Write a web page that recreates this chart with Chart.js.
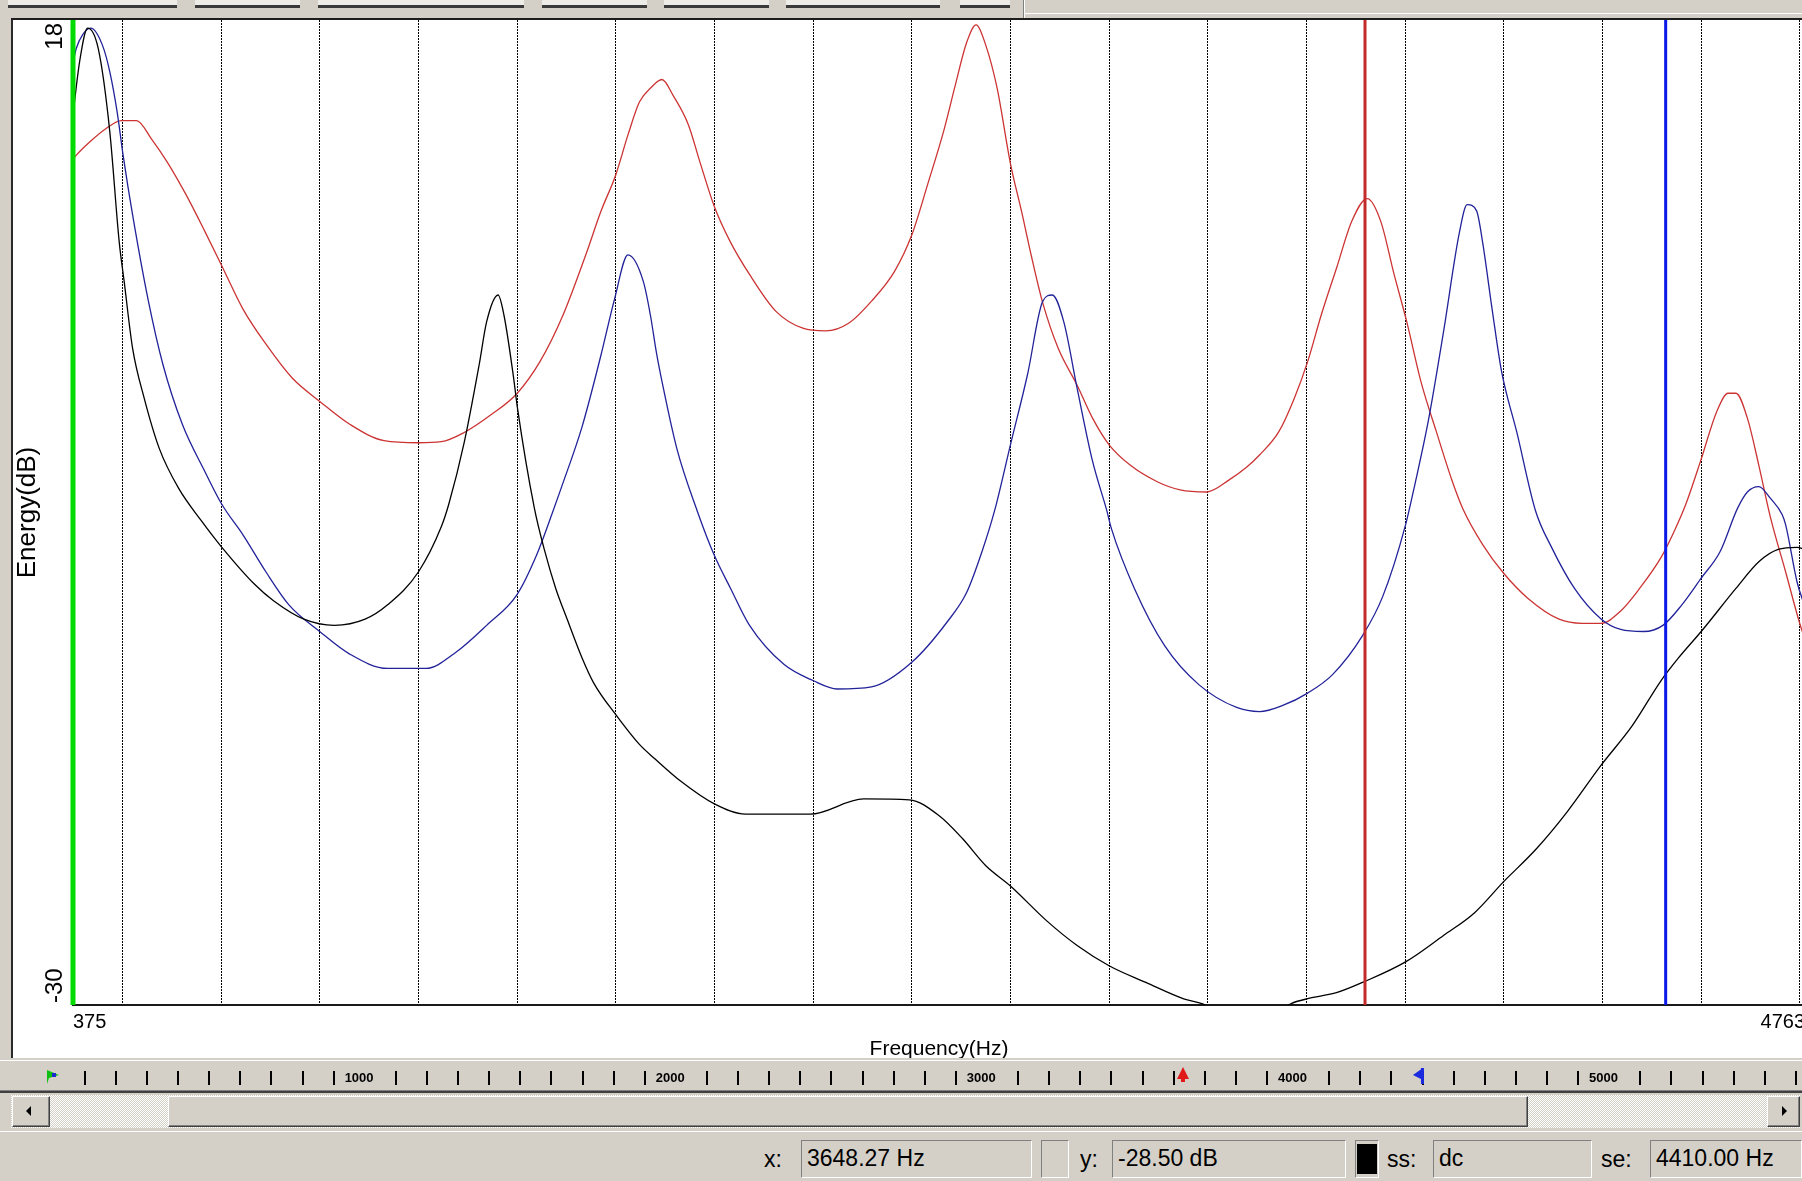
<!DOCTYPE html>
<html>
<head>
<meta charset="utf-8">
<title>Spectrum</title>
<script src="https://cdn.jsdelivr.net/npm/chart.js@4.4.1/dist/chart.umd.min.js"></script>
<style>
  html, body { margin: 0; padding: 0; width: 1802px; height: 1181px; overflow: hidden; background: #d4d0c8; }
  body { position: relative; font-family: "Liberation Sans", Arial, sans-serif; color: #000; }
  .abs { position: absolute; box-sizing: border-box; }
  .raised { background: #d4d0c8; border-top: 1px solid #fff; border-left: 1px solid #fff; border-right: 1px solid #404040; border-bottom: 1px solid #404040; box-shadow: inset -1px -1px 0 #808080; }
  .sunken { background: #d4d0c8; border-top: 1px solid #808080; border-left: 1px solid #808080; border-right: 1px solid #fff; border-bottom: 1px solid #fff; font-size: 23px; line-height: 34px; padding-left: 5px; white-space: nowrap; }
  .lbl { font-size: 23px; line-height: 34px; }
  .track { background: repeating-conic-gradient(#d4d0c8 0 25%, #fff 0 50%) 0 0 / 2px 2px; }
</style>
</head>
<body>
<!-- toolbar remnants at the top -->
<div class="abs" style="left:0;top:0;width:1802px;height:19px;background:#d4d0c8"></div>
<div id="tabs"></div>
<div class="abs" style="left:1023px;top:0;width:1px;height:18px;background:#808080"></div>
<div class="abs" style="left:1024px;top:0;width:1px;height:18px;background:#fff"></div>
<div class="abs" style="left:1025px;top:13px;width:777px;height:1px;background:#fff"></div>

<!-- white plot panel -->
<div class="abs" style="left:11px;top:19px;width:1791px;height:1039px;background:#fff"></div>
<div class="abs" style="left:11px;top:19px;width:2px;height:1039px;background:#2a2a2a"></div>
<div class="abs" style="left:11px;top:18px;width:1791px;height:2px;background:#1e1e1e"></div>

<div class="abs" style="left:0;top:0;width:1810px;height:1062px">
  <canvas id="chart"></canvas>
</div>

<!-- frequency ruler -->
<canvas id="ruler" class="abs" width="1802" height="36" style="left:0;top:1058px"></canvas>

<!-- scrollbar -->
<div class="abs track" style="left:11px;top:1095px;width:1789px;height:33px"></div>
<div class="abs raised" style="left:12px;top:1096px;width:38px;height:31px"></div>
<div class="abs" style="left:26px;top:1106px;width:0;height:0;border-top:5px solid transparent;border-bottom:5px solid transparent;border-right:5px solid #000"></div>
<div class="abs raised" style="left:168px;top:1096px;width:1360px;height:31px"></div>
<div class="abs raised" style="left:1767px;top:1096px;width:33px;height:31px"></div>
<div class="abs" style="left:1782px;top:1106px;width:0;height:0;border-top:5px solid transparent;border-bottom:5px solid transparent;border-left:5px solid #000"></div>

<!-- status bar -->
<div class="abs" style="left:0;top:1131px;width:1802px;height:1px;background:#fff"></div>
<div class="abs lbl" style="left:764px;top:1142px">x:</div>
<div class="abs sunken" style="left:801px;top:1140px;width:231px;height:38px">3648.27 Hz</div>
<div class="abs sunken" style="left:1041px;top:1140px;width:28px;height:38px"></div>
<div class="abs lbl" style="left:1080px;top:1142px">y:</div>
<div class="abs sunken" style="left:1112px;top:1140px;width:234px;height:38px">-28.50 dB</div>
<div class="abs sunken" style="left:1355px;top:1140px;width:24px;height:38px;padding:0"><div style="margin:3px 1px;height:30px;background:#000"></div></div>
<div class="abs lbl" style="left:1387px;top:1142px">ss:</div>
<div class="abs sunken" style="left:1433px;top:1140px;width:159px;height:38px">dc</div>
<div class="abs lbl" style="left:1601px;top:1142px">se:</div>
<div class="abs sunken" style="left:1650px;top:1140px;width:152px;height:38px">4410.00 Hz</div>

<script>
// ---- values ----
const blackHz = [375, 392, 412, 439, 468, 492, 505, 526, 555, 594, 642, 700, 748, 835, 883, 960, 1037, 1115, 1172, 1250,
  1308, 1327, 1366, 1404, 1423, 1452, 1467, 1491, 1501, 1544, 1569, 1598, 1627, 1665, 1694, 1752, 1810, 1849, 1915, 2000,
  2079, 2243, 2378, 2494, 2571, 2629, 2687, 2750, 2842, 2919, 3001, 3093, 3189, 3237, 3300, 3350, 3400, 3459, 3508, 3576,
  3642, 3751, 3848, 3926, 3999, 4082, 4160, 4247, 4325, 4398, 4442, 4500, 4588, 4646, 4695, 4743, 4763];
const blackDb = [13.4, 16.0, 17.6, 16.6, 12.6, 7.2, 5.2, 2.0, -0.4, -2.9, -4.8, -6.4, -7.6, -9.5, -10.3, -11.2, -11.5, -11.2, -10.5, -8.9,
  -6.7, -5.6, -2.6, 1.2, 3.3, 4.6, 3.6, 0.6, -0.9, -5.8, -7.8, -9.7, -11.2, -13.1, -14.3, -15.9, -17.3, -18.0, -19.1, -20.2,
  -20.7, -20.7, -19.96, -20.0, -20.8, -21.9, -23.2, -24.2, -25.9, -27.1, -28.1, -28.9, -29.7, -29.95, -30.6, -31.0, -30.7, -29.95, -29.67, -29.4,
  -28.9, -27.9, -26.6, -25.5, -24.0, -22.4, -20.6, -18.3, -16.4, -14.2, -13.1, -11.8, -9.7, -8.4, -7.8, -7.7, -7.8];

const blueHz = [375, 383, 400, 420, 449, 468, 487, 502, 526, 565, 603, 652, 709, 752, 806, 864, 922, 1000, 1076, 1172,
  1269, 1346, 1423, 1500, 1549, 1588, 1612, 1665, 1713, 1747, 1781, 1820, 1838, 1853, 1867, 1905, 1956, 2000, 2041, 2089,
  2176, 2251, 2311, 2398, 2500, 2591, 2639, 2678, 2710, 2750, 2793, 2832, 2856, 2885, 2919, 2958, 2994, 3006, 3064, 3141,
  3228, 3323, 3381, 3440, 3503, 3566, 3642, 3693, 3751, 3775, 3809, 3848, 3887, 3907, 3931, 3946, 3970, 3994, 4033, 4080,
  4121, 4179, 4247, 4296, 4354, 4403, 4451, 4500, 4548, 4592, 4617, 4646, 4675, 4705, 4714, 4743, 4763];
const blueDb = [15.9, 16.6, 17.3, 17.6, 16.8, 15.5, 13.5, 11.4, 8.5, 4.4, 1.2, -1.7, -4.0, -5.6, -7.1, -8.9, -10.5, -11.8, -12.9, -13.6,
  -13.6, -12.8, -11.5, -10.0, -8.1, -6.1, -4.8, -1.8, 1.7, 4.4, 6.55, 5.25, 3.6, 1.8, 0.4, -2.9, -5.9, -8.1, -9.7, -11.5,
  -13.4, -14.2, -14.6, -14.5, -13.3, -11.3, -9.9, -7.9, -5.9, -2.7, 0.7, 4.3, 4.6, 3.3, 0.05, -3.5, -5.9, -6.8, -9.7, -12.5,
  -14.4, -15.5, -15.7, -15.4, -14.8, -13.9, -12.0, -10.1, -6.6, -4.6, -1.5, 2.9, 7.6, 9.0, 8.7, 7.2, 3.95, 0.9, -2.1, -5.9,
  -7.7, -9.7, -11.2, -11.7, -11.8, -11.5, -10.5, -9.2, -7.9, -5.8, -5.0, -4.74, -5.3, -6.1, -6.6, -9.4, -10.6];

const redHz = [375, 383, 420, 458, 497, 536, 574, 613, 661, 709, 750, 806, 864, 931, 1001, 1076, 1163, 1250, 1308, 1366,
  1433, 1500, 1558, 1616, 1674, 1713, 1750, 1781, 1810, 1839, 1867, 1896, 1934, 1963, 2000, 2040, 2089, 2156, 2224, 2282,
  2340, 2398, 2456, 2500, 2542, 2581, 2610, 2639, 2663, 2687, 2716, 2750, 2779, 2803, 2832, 2871, 2919, 2958, 3000, 3054,
  3122, 3180, 3247, 3305, 3348, 3381, 3430, 3469, 3503, 3537, 3576, 3615, 3654, 3688, 3722, 3754, 3790, 3829, 3868, 3897,
  3946, 3999, 4062, 4140, 4198, 4247, 4296, 4344, 4398, 4432, 4461, 4500, 4539, 4568, 4588, 4617, 4646, 4675, 4714, 4748, 4763];
const redDb = [11.2, 11.4, 12.1, 12.7, 13.1, 13.1, 12.2, 11.1, 9.5, 7.7, 6.1, 3.9, 2.2, 0.54, -0.6, -1.7, -2.5, -2.6, -2.55, -2.1,
  -1.25, -0.2, 1.35, 3.6, 6.55, 8.7, 10.45, 12.4, 14.0, 14.7, 15.1, 14.3, 12.9, 11.1, 8.9, 7.2, 5.6, 3.8, 2.98, 2.85,
  3.22, 4.3, 5.74, 7.52, 10.1, 12.6, 14.8, 16.9, 17.76, 16.8, 14.7, 11.0, 8.6, 6.5, 4.2, 2.0, 0.2, -1.4, -2.7, -3.7,
  -4.5, -4.9, -5.0, -4.4, -3.8, -3.2, -2.06, -0.44, 1.35, 3.6, 5.9, 8.2, 9.3, 8.2, 5.6, 3.3, 0.38, -2.06, -4.4, -5.85,
  -7.55, -8.95, -10.2, -11.2, -11.4, -11.4, -10.8, -9.7, -8.2, -6.9, -5.6, -3.4, -1.1, -0.19, -0.19, -1.4, -3.7, -6.2, -8.9, -11.3, -12.2];

// axis range, grid and cursors
const xTickValues = [375, 500, 750, 1000, 1250, 1500, 1750, 2000, 2250, 2500, 2750, 3000, 3250, 3500, 3750, 4000,
  4250, 4500, 4750, 4763];
const yTickValues = [-30, 18];
const viewStartHz = 375;
const cursorRedHz = 3648.27;
const cursorBlueHz = 4410;
const rulerLabels = [1000, 2000, 3000, 4000, 5000];

const FONT = '"Liberation Sans", Arial, sans-serif';
const xMin = xTickValues[0], xMax = xTickValues[xTickValues.length - 1];

const toPoints = (hz, db) => hz.map((f, i) => ({ x: f, y: db[i] }));
const vline = hz => [{ x: hz, y: yTickValues[0] }, { x: hz, y: yTickValues[1] }];

const lineStyle = (color, width) => ({
  borderColor: color, borderWidth: width, pointRadius: 0, fill: false
});

// rotated "18" / "-30" labels next to the plot's left edge
const yEndLabels = {
  id: 'yEndLabels',
  afterDraw(chart) {
    const { ctx, scales: { y } } = chart;
    const top = y.getPixelForValue(yTickValues[1]);
    const bottom = y.getPixelForValue(yTickValues[0]);
    ctx.save();
    ctx.font = '24px ' + FONT;
    ctx.fillStyle = '#000';
    ctx.textBaseline = 'middle';
    ctx.translate(55, 0);
    ctx.rotate(-Math.PI / 2);
    ctx.textAlign = 'right';
    ctx.fillText(String(yTickValues[1]), -(top + 3), 0);
    ctx.textAlign = 'left';
    ctx.fillText(String(yTickValues[0]), -(bottom - 2), 0);
    ctx.restore();
  }
};

new Chart(document.getElementById('chart'), {
  type: 'line',
  data: {
    datasets: [
      { data: vline(viewStartHz), ...lineStyle('#00dc00', 5), clip: false },
      { data: vline(cursorRedHz), ...lineStyle('#c42a2a', 3) },
      { data: vline(cursorBlueHz), ...lineStyle('#0a18e8', 3) },
      { data: toPoints(blackHz, blackDb), ...lineStyle('#000000', 1.3), cubicInterpolationMode: 'monotone' },
      { data: toPoints(blueHz, blueDb), ...lineStyle('#22229a', 1.3), cubicInterpolationMode: 'monotone' },
      { data: toPoints(redHz, redDb), ...lineStyle('#cc3434', 1.3), cubicInterpolationMode: 'monotone' }
    ]
  },
  options: {
    responsive: true,
    maintainAspectRatio: false,
    animation: false,
    events: [],
    layout: { padding: { left: 12, top: 20, right: 5, bottom: 0 } },
    plugins: { legend: { display: false }, tooltip: { enabled: false } },
    scales: {
      x: {
        type: 'linear',
        min: xMin,
        max: xMax,
        afterBuildTicks: s => { s.ticks = xTickValues.map(v => ({ value: v })); },
        afterFit: s => { s.height = 57; },
        ticks: {
          autoSkip: false,
          maxRotation: 0,
          align: 'inner',
          padding: 5,
          color: '#000',
          font: { family: FONT, size: 20 },
          callback: v => (v === xMin || v === xMax) ? String(v) : ''
        },
        grid: {
          drawTicks: false,
          lineWidth: 1,
          color: c => (c.tick && (c.tick.value === xMin || c.tick.value === xMax)) ? 'rgba(0,0,0,0)' : '#000'
        },
        border: { display: true, color: '#1a1a1a', width: 2, dash: [2, 1] },
        title: {
          display: true,
          text: 'Frequency(Hz)',
          color: '#000',
          font: { family: FONT, size: 21 },
          padding: 0
        }
      },
      y: {
        min: yTickValues[0],
        max: yTickValues[1],
        afterFit: s => { s.width = 61; },
        ticks: { display: false },
        grid: { display: false },
        border: { display: false },
        title: {
          display: true,
          text: 'Energy(dB)',
          color: '#000',
          font: { family: FONT, size: 26 },
          padding: 0
        }
      }
    }
  },
  plugins: [yEndLabels]
});

// toolbar button edges at the very top
const tabSpans = [[8, 177], [195, 300], [318, 524], [542, 647], [664, 769], [786, 940], [960, 1010]];
const tabs = document.getElementById('tabs');
tabSpans.forEach(([a, b]) => {
  const face = document.createElement('div');
  face.className = 'abs';
  face.style.cssText = `left:${a}px;top:0;width:${b - a}px;height:5px;background:#eeece6`;
  const edge = document.createElement('div');
  edge.className = 'abs';
  edge.style.cssText = `left:${a}px;top:5px;width:${b - a}px;height:3px;background:#3a3a3a`;
  tabs.appendChild(face);
  tabs.appendChild(edge);
});

// overview ruler under the plot
(function drawRuler() {
  const c = document.getElementById('ruler');
  const g = c.getContext('2d');
  const rx = hz => 48 + hz * 0.3111;
  g.fillStyle = '#d4d0c8'; g.fillRect(0, 0, c.width, c.height);
  g.fillStyle = '#fff'; g.fillRect(0, 2, c.width, 1);
  g.fillStyle = '#808080'; g.fillRect(0, 32, c.width, 1);
  g.fillStyle = '#404040'; g.fillRect(0, 33, c.width, 2);
  g.fillStyle = '#000';
  for (let hz = 200; hz <= 5800; hz += 100) {
    if (hz % 1000 === 100) continue;
    const x = Math.round(rx(hz) - 26.4);
    g.fillRect(x, 13, 2, 14);
  }
  g.font = 'bold 13px ' + FONT;
  g.textAlign = 'center';
  g.textBaseline = 'middle';
  rulerLabels.forEach(v => g.fillText(String(v), rx(v), 20));
  // start flag (green), left cursor (red), right cursor (blue)
  const gx = rx(0) + 3;
  g.fillStyle = '#10c010';
  g.beginPath(); g.moveTo(gx - 4, 26); g.lineTo(gx - 4, 12); g.lineTo(gx + 8, 17); g.lineTo(gx - 2, 20); g.closePath(); g.fill();
  g.fillStyle = '#1a2ad0'; g.fillRect(gx + 1, 15, 4, 4);
  const rxr = rx(cursorRedHz);
  g.fillStyle = '#e01818';
  g.beginPath(); g.moveTo(rxr, 9); g.lineTo(rxr + 6, 21); g.lineTo(rxr - 6, 21); g.closePath(); g.fill();
  g.fillRect(rxr - 2, 20, 4, 4);
  const bxr = rx(cursorBlueHz);
  g.fillStyle = '#1a2ae0';
  g.beginPath(); g.moveTo(bxr + 3, 10); g.lineTo(bxr + 3, 22); g.lineTo(bxr - 7, 17); g.closePath(); g.fill();
  g.fillRect(bxr + 1, 10, 3, 16);
})();
</script>
</body>
</html>
